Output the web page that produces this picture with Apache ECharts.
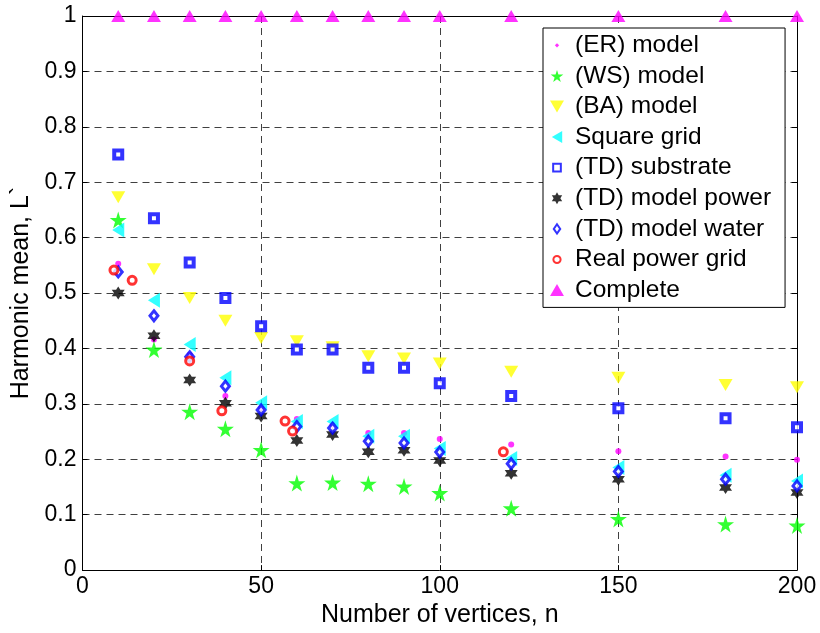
<!DOCTYPE html>
<html>
<head>
<meta charset="utf-8">
<script src="https://cdn.jsdelivr.net/npm/echarts@6/dist/echarts.min.js"></script>
<style>html,body{margin:0;padding:0;background:#fff;}#c{width:820px;height:633px;}</style>
</head>
<body>
<div id="c"></div>
<script>
// ---- data ----
var vertices = [10, 20, 30, 40, 50, 60, 70, 80, 90, 100, 120, 150, 180, 200];
var erModel = [0.553, 0.416, 0.388, 0.314, 0.292, 0.2725, 0.262, 0.2475, 0.2475, 0.2367, 0.2266, 0.2147, 0.205, 0.199];
var wsModel = [0.632, 0.398, 0.286, 0.255, 0.217, 0.157, 0.158, 0.156, 0.151, 0.139, 0.1115, 0.0924, 0.083, 0.0805];
var baModel = [0.673, 0.543, 0.491, 0.450, 0.419, 0.413, 0.402, 0.386, 0.382, 0.373, 0.358, 0.347, 0.334, 0.330];
var squareGrid = [0.614, 0.487, 0.407, 0.347, 0.302, 0.268, 0.268, 0.2415, 0.2415, 0.2195, 0.2016, 0.185, 0.171, 0.161];
var tdSubstrate = [0.750, 0.635, 0.555, 0.491, 0.440, 0.398, 0.398, 0.365, 0.365, 0.337, 0.314, 0.292, 0.274, 0.258];
var tdPower = [0.500, 0.423, 0.343, 0.301, 0.278, 0.234, 0.2445, 0.2135, 0.2165, 0.198, 0.175, 0.164, 0.149, 0.140];
var tdWater = [0.538, 0.459, 0.385, 0.332, 0.289, 0.259, 0.2564, 0.2326, 0.2296, 0.213, 0.192, 0.178, 0.164, 0.152];
var realX = [8.8, 13.9, 30, 39, 56.7, 58.8, 117.8];
var realY = [0.5415, 0.523, 0.3775, 0.2875, 0.269, 0.251, 0.2135];
var complete = [1, 1, 1, 1, 1, 1, 1, 1, 1, 1, 1, 1, 1, 1];
var seriesNames = ['(ER) model', '(WS) model', '(BA) model', 'Square grid', '(TD) substrate',
  '(TD) model power', '(TD) model water', 'Real power grid', 'Complete'];
var xTicks = {min: 0, max: 200, interval: 50};
var yTicks = {min: 0, max: 1, interval: 0.1};

function pairs(xs, ys) { return xs.map(function (x, i) { return [x, ys[i]]; }); }

var FONT = 'Liberation Sans, Arial, Helvetica, sans-serif';
var STAR5 = 'path://M50,0 L61,35 L98,35 L68,57 L79,91 L50,70 L21,91 L32,57 L2,35 L39,35 Z';
var HEX6 = 'path://M50,0 L64,25 L93,25 L78,50 L93,75 L64,75 L50,100 L36,75 L7,75 L22,50 L7,25 L36,25 Z';
var TRI_DOWN = 'path://M0,0 L100,0 L50,86 Z';
var TRI_LEFT = 'path://M0,50 L86,0 L86,100 Z';
var TRI_UP = 'path://M0,86 L50,0 L100,86 Z';
var DIAMOND = 'path://M50,0 L100,65 L50,130 L0,65 Z';
var SQUARE = 'path://M0,0 L100,0 L100,100 L0,100 Z';
var SMALL_DOT = 'path://M0,0 M100,100 M50,32 L68,50 L50,68 L32,50 Z';
var SMALL_SQUARE = 'path://M0,0 M100,100 M18,18 L82,18 L82,82 L18,82 Z';
var SMALL_CIRCLE = 'path://M0,0 M100,100 M50,20 A30,30 0 1 1 49.9,20 Z';
var SMALL_DIAMOND = 'path://M0,0 M100,130 M50,15 L85,65 L50,115 L15,65 Z';

function sc(name, data, symbol, size, style) {
  return {
    name: name, type: 'scatter', data: data, symbol: symbol, symbolSize: size,
    clip: false, itemStyle: style, emphasis: {disabled: true}
  };
}

var series = [
  sc(seriesNames[0], pairs(vertices, erModel), 'circle', 6, {color: '#ff00ff'}),
  sc(seriesNames[1], pairs(vertices, wsModel), STAR5, 17, {color: '#00ff00'}),
  sc(seriesNames[2], pairs(vertices, baModel), TRI_DOWN, [14, 12], {color: '#ffff00'}),
  sc(seriesNames[3], pairs(vertices, squareGrid), TRI_LEFT, [12, 15], {color: '#00ffff'}),
  sc(seriesNames[4], pairs(vertices, tdSubstrate), SQUARE, 8, {color: '#ffffff', borderColor: '#0000ff', borderWidth: 4}),
  sc(seriesNames[5], pairs(vertices, tdPower), HEX6, 13, {color: '#000000'}),
  sc(seriesNames[6], pairs(vertices, tdWater), DIAMOND, [8, 10], {color: '#ffffff', borderColor: '#0000ff', borderWidth: 3}),
  sc(seriesNames[7], pairs(realX, realY), 'circle', 8, {color: '#ffffff', borderColor: '#ff0000', borderWidth: 3}),
  sc(seriesNames[8], pairs(vertices, complete), TRI_UP, [14, 12], {color: '#ff00ff'})
];

var legendIcons = [SMALL_DOT, STAR5, TRI_DOWN, TRI_LEFT, SMALL_SQUARE, HEX6, SMALL_DIAMOND, SMALL_CIRCLE, TRI_UP];

var chart = echarts.init(document.getElementById('c'), null, {renderer: 'canvas'});
chart.setOption({
  animation: false,
  backgroundColor: '#ffffff',
  textStyle: {fontFamily: FONT},
  grid: {left: 82.5, right: 23, top: 16, bottom: 58, containLabel: false},
  legend: {
    orient: 'vertical', left: 543, top: 28,
    itemWidth: 26, itemHeight: 12, itemGap: 0,
    padding: [2, 14, 2, 7],
    borderColor: '#000', borderWidth: 1, backgroundColor: '#ffffff',
    textStyle: {fontSize: 24.5, color: '#000', fontFamily: FONT, lineHeight: 30.6},
    data: seriesNames.map(function (n, i) { return {name: n, icon: legendIcons[i]}; })
  },
  xAxis: [{
    type: 'value', min: xTicks.min, max: xTicks.max, interval: xTicks.interval,
    name: 'Number of vertices, n', nameLocation: 'middle', nameGap: 28,
    nameTextStyle: {fontSize: 25, color: '#000', fontFamily: FONT},
    axisLine: {show: true, onZero: false, lineStyle: {color: '#000', width: 1}},
    axisTick: {show: true, inside: true, length: 5, lineStyle: {color: '#000'}},
    axisLabel: {fontSize: 23, color: '#000', margin: 5, fontFamily: FONT},
    splitLine: {show: true, lineStyle: {color: '#404040', type: [7, 5], width: 1}}
  }, {
    type: 'value', position: 'top', min: xTicks.min, max: xTicks.max, interval: xTicks.interval,
    axisLine: {show: true, onZero: false, lineStyle: {color: '#000', width: 1}},
    axisTick: {show: true, inside: true, length: 5, lineStyle: {color: '#000'}},
    axisLabel: {show: false}, splitLine: {show: false}
  }],
  yAxis: [{
    type: 'value', min: yTicks.min, max: yTicks.max, interval: yTicks.interval,
    name: 'Harmonic mean, L`', nameLocation: 'middle', nameGap: 47,
    nameTextStyle: {fontSize: 25, color: '#000', fontFamily: FONT},
    axisLine: {show: true, onZero: false, lineStyle: {color: '#000', width: 1}},
    axisTick: {show: true, inside: true, length: 5, lineStyle: {color: '#000'}},
    axisLabel: {fontSize: 23, color: '#000', margin: 6, fontFamily: FONT},
    splitLine: {show: true, lineStyle: {color: '#404040', type: [7, 5], width: 1}}
  }, {
    type: 'value', position: 'right', min: yTicks.min, max: yTicks.max, interval: yTicks.interval,
    axisLine: {show: true, onZero: false, lineStyle: {color: '#000', width: 1}},
    axisTick: {show: true, inside: true, length: 5, lineStyle: {color: '#000'}},
    axisLabel: {show: false}, splitLine: {show: false}
  }],
  series: series
});
</script>
</body>
</html>
